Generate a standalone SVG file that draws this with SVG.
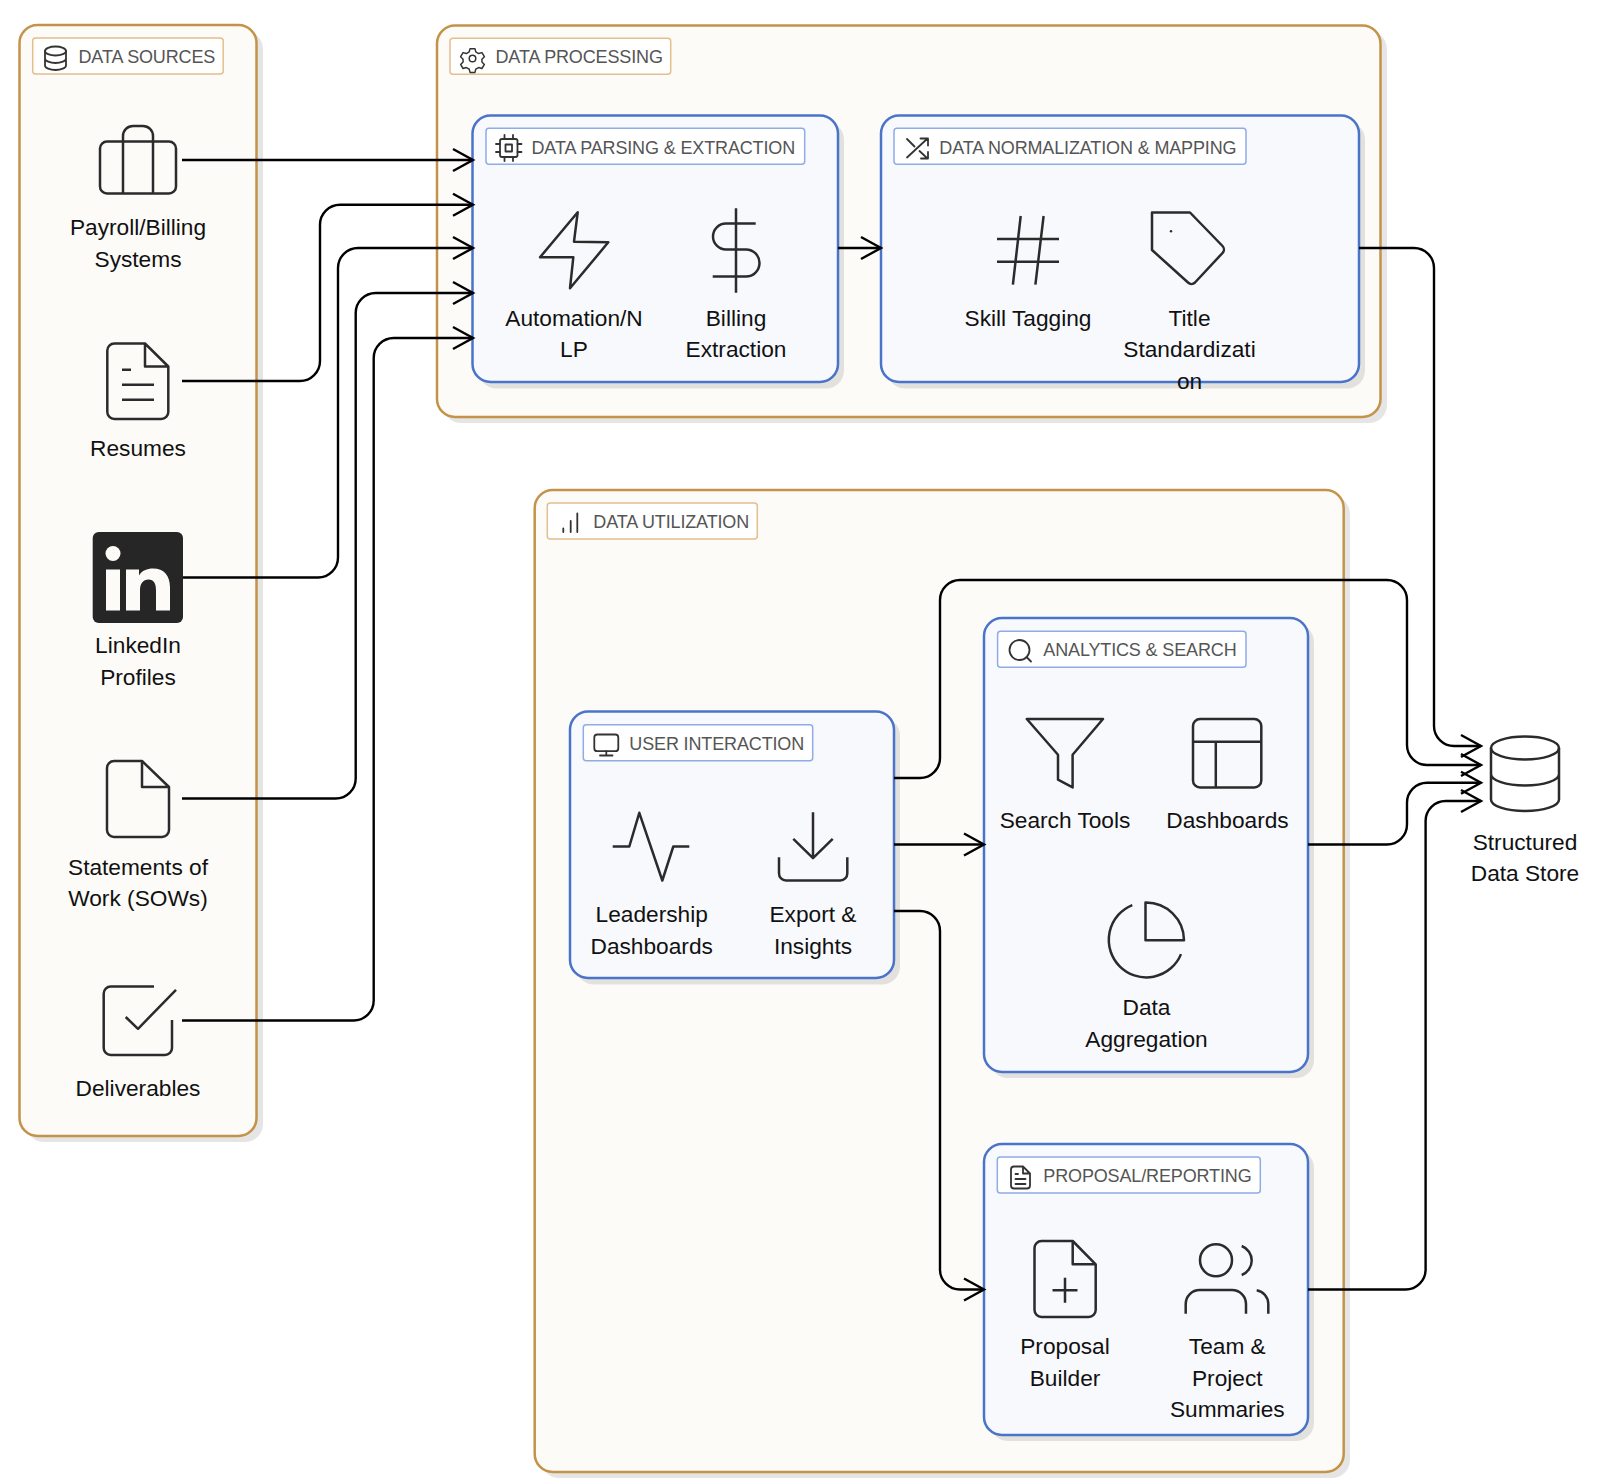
<svg xmlns="http://www.w3.org/2000/svg" width="1606" height="1484" viewBox="0 0 1606 1484">
<defs>
<style>
text{font-family:"Liberation Sans",Arial,sans-serif}
.sh{fill:#000;fill-opacity:.1;stroke:none}
.outer{fill:#fcfbf8;stroke:#c4934a;stroke-width:2.5}
.inner{fill:#f8f9fd;stroke:#4a74c9;stroke-width:2.5}
.lo{fill:#fff;stroke:#e3bf8d;stroke-width:1.5}
.li{fill:#fff;stroke:#8fabe8;stroke-width:1.5}
.lt{font-size:18px;letter-spacing:-.14px;fill:#555}
.nt{font-size:22.7px;fill:#111;text-anchor:middle}
.ic{fill:none;stroke:#2b2b2b;stroke-width:2.5;stroke-linejoin:round}
.is{fill:none;stroke:#333;stroke-width:1.8;stroke-linecap:round;stroke-linejoin:round}
.c{fill:none;stroke:#000;stroke-width:2.4;marker-end:url(#a)}
</style>
<marker id="a" markerUnits="userSpaceOnUse" markerWidth="24" markerHeight="26" refX="21" refY="12" orient="auto" overflow="visible">
<path d="M1 1L21 12L1 23" fill="none" stroke="#000" stroke-width="2.4"/>
</marker>
</defs>
<rect width="1606" height="1484" fill="#fff"/>

<g id="data-sources">
<rect class="sh" x="26" y="31" width="237" height="1111" rx="18"/>
<rect class="outer" x="19.5" y="25" width="237" height="1111" rx="18"/>
<rect class="lo" x="32.7" y="38" width="190.5" height="36" rx="3"/>
<g class="is"><ellipse cx="55.5" cy="51" rx="10.5" ry="4.5"/><path d="M45 51V65.5C45 68 50 70 55.5 70S66 68 66 65.5V51M45 58.5C45 61 50 63 55.5 63S66 61 66 58.5"/></g>
<text class="lt" x="78.5" y="63.3">DATA SOURCES</text>
</g>
<g id="data-processing">
<rect class="sh" x="443" y="31" width="944" height="392" rx="18"/>
<rect class="outer" x="437" y="25.5" width="943.5" height="391.5" rx="18"/>
<rect class="lo" x="450" y="38.3" width="220.7" height="36" rx="3"/>
<g class="is" transform="translate(472.5 58.5) scale(.82) translate(-472.5 -58.5)"><circle cx="472.5" cy="58.5" r="4"/><path d="M469.5 46.5h6l1 4 3.500 2 4-1.200 3 5-3 3v3.400l3 3-3 5-4-1.200-3.500 2-1 4h-6l-1-4-3.500-2-4 1.200-3-5 3-3v-3.400l-3-3 3-5 4 1.200 3.500-2z"/></g>
<text class="lt" x="495.500" y="63.300">DATA PROCESSING</text>
</g>
<g id="data-parsing">
<rect class="sh" x="478.500" y="121.500" width="365.500" height="267" rx="18"/>
<rect class="inner" x="472.500" y="115.500" width="365.500" height="266.500" rx="18"/>
<rect class="li" x="486" y="128.300" width="318.700" height="36" rx="3"/>
<g class="is"><rect x="500" y="139" width="17.500" height="18" rx="2"/><rect x="505.500" y="144.500" width="6.500" height="7"/><path d="M504.500 135v4M513 135v4M504.500 157v4M513 157v4M496 144h4M496 152h4M517.500 144h4M517.500 152h4"/></g>
<text class="lt" x="531.500" y="153.700">DATA PARSING &amp; EXTRACTION</text>
<path class="ic" d="M577.700 212.300L574 241.700L608.300 242.300L570 288.300L573.300 257.300L540 257.300Z"/>
<text class="nt" x="574" y="325.500">Automation/N</text>
<text class="nt" x="574" y="357">LP</text>
<path class="ic" d="M736 208.300V292.700M755.700 223.500H726a13 13 0 0 0 0 26H746a13.500 13.500 0 0 1 0 27H712.700"/>
<text class="nt" x="736" y="325.500">Billing</text>
<text class="nt" x="736" y="357">Extraction</text>
</g>
<g id="data-normalization">
<rect class="sh" x="887" y="121.500" width="478" height="267" rx="18"/>
<rect class="inner" x="881" y="115.500" width="478" height="266.500" rx="18"/>
<rect class="li" x="894" y="128.300" width="352" height="36" rx="3"/>
<g class="is"><path d="M907 157.500L927.500 138.500M920.500 138.500H928V145.500M907 139L914.500 146.500M919.500 151L927.500 158.500M928 152V158.500H921"/></g>
<text class="lt" x="939.300" y="153.700">DATA NORMALIZATION &amp; MAPPING</text>
<path class="ic" d="M997 239H1059M997 261.700H1059M1020.700 216L1012.900 284.700M1043.600 216L1035.400 284.700"/>
<text class="nt" x="1028" y="325.500">Skill Tagging</text>
<path class="ic" d="M1152 212.500H1190L1222.500 246a5 5 0 0 1 0 7L1195 282.500a5 5 0 0 1-7 0L1152 250Z"/>
<circle cx="1171" cy="231.300" r="1.200" fill="#2b2b2b"/>
<text class="nt" x="1189.500" y="325.500">Title</text>
<text class="nt" x="1189.500" y="357">Standardizati</text>
<text class="nt" x="1189.500" y="388.500">on</text>
</g>
<g id="data-utilization">
<rect class="sh" x="541" y="496" width="809" height="982" rx="18"/>
<rect class="outer" x="534.700" y="490" width="809" height="982" rx="18"/>
<rect class="lo" x="547.300" y="503" width="210" height="36" rx="3"/>
<g class="is"><path d="M563.300 528.500V532M570.700 521V532M577.300 513.500V532"/></g>
<text class="lt" x="593.300" y="528.300">DATA UTILIZATION</text>
</g>
<g id="user-interaction">
<rect class="sh" x="576" y="717.500" width="324" height="267" rx="18"/>
<rect class="inner" x="570" y="711.500" width="324" height="266.500" rx="18"/>
<rect class="li" x="583.300" y="724.800" width="229.400" height="36" rx="3"/>
<g class="is"><rect x="594.300" y="734.500" width="24" height="16.700" rx="3"/><path d="M606.300 751.200V755.500M600 755.500H612.500"/></g>
<text class="lt" x="629.300" y="749.800">USER INTERACTION</text>
<path class="ic" d="M612.700 846.500H629.300L639.300 812.800L662.300 880.500L673.300 846.500H689.300"/>
<text class="nt" x="651.700" y="922">Leadership</text>
<text class="nt" x="651.700" y="953.500">Dashboards</text>
<path class="ic" d="M813 812.200V858.200M793.300 838.800L813 858.200L832.700 838.800M779 857.200V873.500a7 7 0 0 0 7 7H840.300a7 7 0 0 0 7-7V857.200"/>
<text class="nt" x="813" y="922">Export &amp;</text>
<text class="nt" x="813" y="953.500">Insights</text>
</g>
<g id="analytics-search">
<rect class="sh" x="990" y="624" width="324" height="454" rx="18"/>
<rect class="inner" x="984" y="618" width="324" height="454" rx="18"/>
<rect class="li" x="997.600" y="631.200" width="248.400" height="36" rx="3"/>
<g class="is"><circle cx="1019.500" cy="650" r="10"/><path d="M1026.500 657L1031 661.500"/></g>
<text class="lt" x="1043.300" y="656">ANALYTICS &amp; SEARCH</text>
<path class="ic" d="M1026.800 719H1103L1072.600 754.700V787.400L1058 779.700V754.700Z"/>
<text class="nt" x="1065" y="828">Search Tools</text>
<rect class="ic" x="1193" y="719" width="68.300" height="68.400" rx="7"/>
<path class="ic" d="M1193 741.700H1261.300M1215.800 741.700V787.400"/>
<text class="nt" x="1227.500" y="828">Dashboards</text>
<path class="ic" d="M1145.500 940.300V902.500A38 38 0 0 1 1184 940.300ZM1132.300 905.100A37.500 37.500 0 1 0 1181 954.100"/>
<text class="nt" x="1146.500" y="1015">Data</text>
<text class="nt" x="1146.500" y="1046.500">Aggregation</text>
</g>
<g id="proposal-reporting">
<rect class="sh" x="990" y="1150" width="324" height="291" rx="18"/>
<rect class="inner" x="984" y="1144" width="324" height="291" rx="18"/>
<rect class="li" x="997.300" y="1157" width="263" height="36" rx="3"/>
<g class="is"><path d="M1014 1166.500H1023L1030 1173.500V1185.500a3 3 0 0 1-3 3H1014a3 3 0 0 1-3-3V1169.500a3 3 0 0 1 3-3ZM1023 1166.500V1173.500H1030M1015.500 1174H1018M1015.500 1179H1025.500M1015.500 1184H1025.500"/></g>
<text class="lt" x="1043.300" y="1182">PROPOSAL/REPORTING</text>
<path class="ic" d="M1041.500 1241H1072.700L1095.700 1264.300V1310a7 7 0 0 1-7 7H1041.500a7 7 0 0 1-7-7V1248a7 7 0 0 1 7-7ZM1072.700 1241V1264.300H1095.700M1052.500 1290.300H1077.500M1065 1277.800V1302.800"/>
<text class="nt" x="1065" y="1354">Proposal</text>
<text class="nt" x="1065" y="1385.500">Builder</text>
<circle class="ic" cx="1216" cy="1260.300" r="16"/>
<path class="ic" d="M1241.700 1246A15.500 15.500 0 0 1 1241.700 1275M1185.700 1313.700V1304a14 14 0 0 1 14-14H1232a14 14 0 0 1 14 14V1313.700M1256.700 1290.300A14 14 0 0 1 1268.300 1304V1313.700"/>
<text class="nt" x="1227.300" y="1354">Team &amp;</text>
<text class="nt" x="1227.300" y="1385.500">Project</text>
<text class="nt" x="1227.300" y="1417">Summaries</text>
</g>
<g id="payroll">
<path class="ic" d="M107 141.500H169a7 7 0 0 1 7 7V186.500a7 7 0 0 1-7 7H107a7 7 0 0 1-7-7V148.500a7 7 0 0 1 7-7ZM123 193.500V136a10 10 0 0 1 10-10H143a10 10 0 0 1 10 10V193.500"/>
<text class="nt" x="138" y="235">Payroll/Billing</text>
<text class="nt" x="138" y="266.500">Systems</text>
</g>
<g id="resumes">
<path class="ic" d="M114.300 343.500H145L168.300 366.500V412a7 7 0 0 1-7 7H114.300a7 7 0 0 1-7-7V350.500a7 7 0 0 1 7-7ZM145 343.500V366.500H168.300M122 369.800H131M122 384.800H154M122 399.800H154"/>
<text class="nt" x="138" y="456">Resumes</text>
</g>
<g id="linkedin">
<rect x="92.700" y="532" width="90.300" height="91" rx="6" fill="#262626"/>
<ellipse cx="113" cy="553.500" rx="7.500" ry="7.500" fill="#fcfbf8"/>
<rect x="106" y="569.500" width="14" height="41" fill="#fcfbf8"/>
<path d="M126 569.500H139V575.500C142 570.500 147 568.500 153 568.500C164 568.500 170 575.500 170 587.500V610.500H156V590.500C156 583.500 154 579.500 148.500 579.500C143 579.500 140 583.500 140 590.500V610.500H126Z" fill="#fcfbf8"/>
<text class="nt" x="138" y="653">LinkedIn</text>
<text class="nt" x="138" y="685">Profiles</text>
</g>
<g id="sows">
<path class="ic" d="M114 761H142L169 787V830a7 7 0 0 1-7 7H114a7 7 0 0 1-7-7V768a7 7 0 0 1 7-7ZM142 761V787H169"/>
<text class="nt" x="138" y="874.500">Statements of</text>
<text class="nt" x="138" y="906">Work (SOWs)</text>
</g>
<g id="deliverables">
<path class="ic" d="M154 986.500H110.700a7 7 0 0 0-7 7V1048a7 7 0 0 0 7 7H165a7 7 0 0 0 7-7V1020M125.700 1017L138 1028.800L176 989.800"/>
<text class="nt" x="138" y="1095.500">Deliverables</text>
</g>
<g id="structured-data-store">
<ellipse class="ic" cx="1525" cy="748" rx="34" ry="11.500"/>
<path class="ic" d="M1491 748V799.500C1491 806 1506 811 1525 811S1559 806 1559 799.500V748M1491 774C1491 780.500 1506 785.500 1525 785.500S1559 780.500 1559 774"/>
<text class="nt" x="1525" y="849.500">Structured</text>
<text class="nt" x="1525" y="881">Data Store</text>
</g>
<g id="connectors">
<path class="c" d="M182 160H473"/>
<path class="c" d="M182 381H300a20 20 0 0 0 20-20V224.700a20 20 0 0 1 20-20H473"/>
<path class="c" d="M183 577.500H318a20 20 0 0 0 20-20V268a20 20 0 0 1 20-20H473"/>
<path class="c" d="M182 798.500H335.700a20 20 0 0 0 20-20V313a20 20 0 0 1 20-20H473"/>
<path class="c" d="M182 1020.500H353.700a20 20 0 0 0 20-20V358a20 20 0 0 1 20-20H473"/>
<path class="c" d="M838 248H881"/>
<path class="c" d="M1359 248H1414a20 20 0 0 1 20 20V726a20 20 0 0 0 20 20H1481"/>
<path class="c" d="M894 778H920a20 20 0 0 0 20-20V600a20 20 0 0 1 20-20H1387a20 20 0 0 1 20 20V745a20 20 0 0 0 20 20H1481"/>
<path class="c" d="M1308 844.500H1387a20 20 0 0 0 20-20V802.700a20 20 0 0 1 20-20H1481"/>
<path class="c" d="M1308 1289.500H1405.600a20 20 0 0 0 20-20V821a20 20 0 0 1 20-20H1481"/>
<path class="c" d="M894 844.500H984"/>
<path class="c" d="M894 911H920a20 20 0 0 1 20 20V1269.500a20 20 0 0 0 20 20H984"/>
</g>
</svg>
